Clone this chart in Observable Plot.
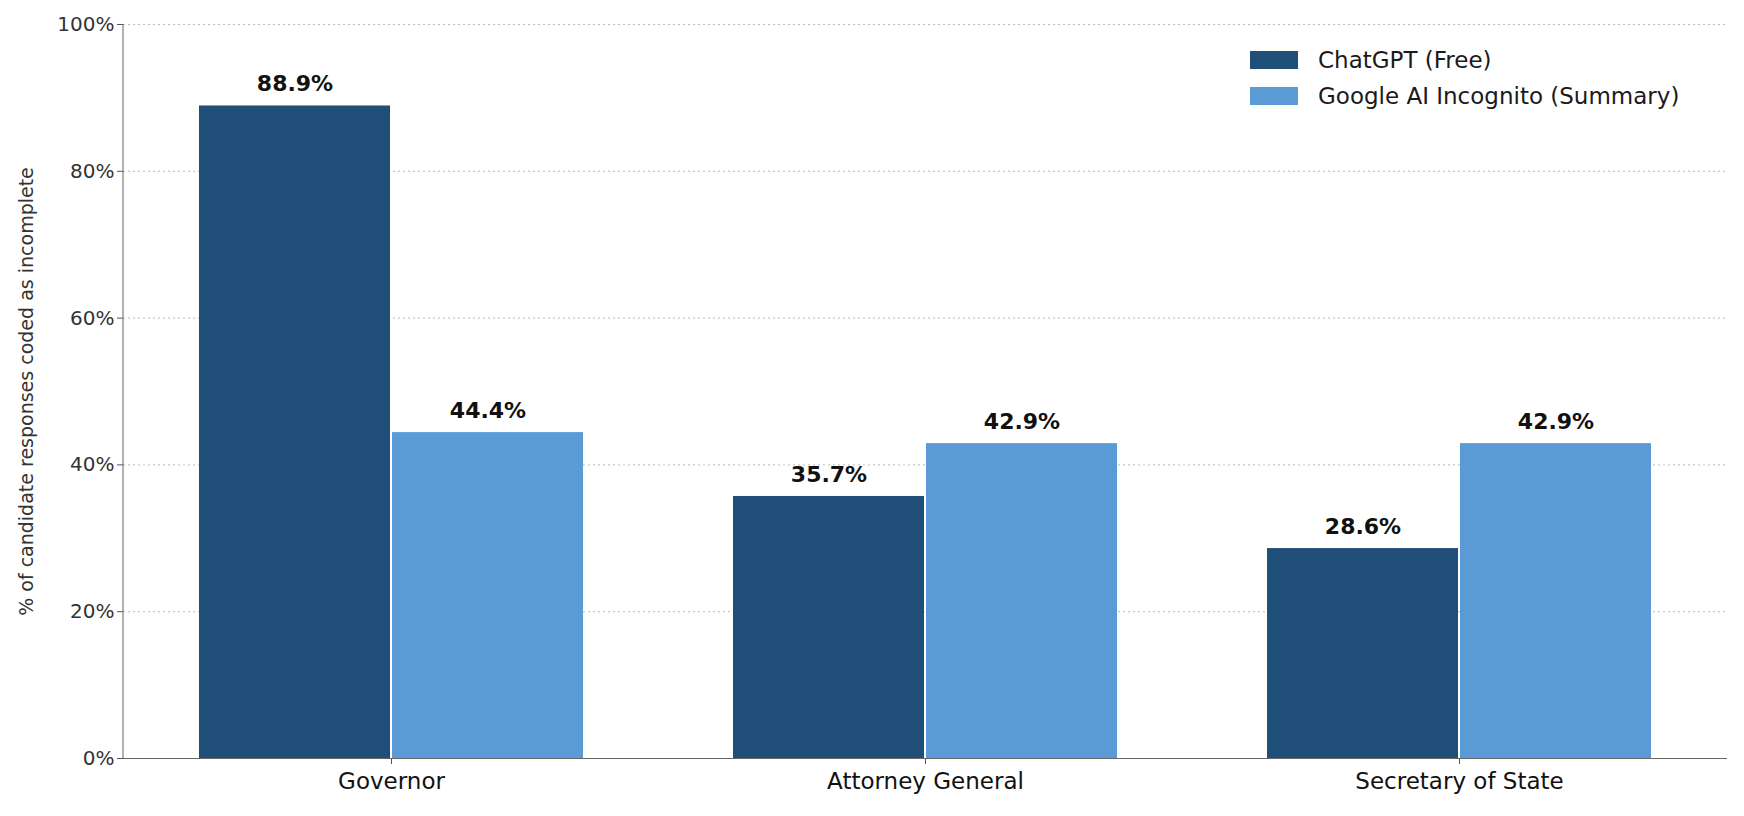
<!DOCTYPE html>
<html><head><meta charset="utf-8">
<script src="https://cdn.jsdelivr.net/npm/d3@7"></script>
<script src="https://cdn.jsdelivr.net/npm/@observablehq/plot@0.6"></script>
<style>
body{margin:0;background:#fff;font-family:"DejaVu Sans",sans-serif;}
#wrap{position:relative;width:1744px;height:816px;}
#legend{position:absolute;left:1250px;top:42px;font-size:23px;color:#1a1a1a;}
#legend div{display:flex;align-items:center;height:36px;}
#legend span.sw{display:inline-block;width:48px;height:18px;margin-right:20px;}
</style></head><body>
<div id="wrap"><div id="legend"></div></div>
<script>
const categories = ["Governor","Attorney General","Secretary of State"];
const series = ["ChatGPT (Free)","Google AI Incognito (Summary)"];
const chatgpt = [88.9,35.7,28.6];
const google = [44.4,42.9,42.9];
const colors = ["#1f4e79","#5b9bd5"];
const yTicks = [0,20,40,60,80,100];

const data = [];
categories.forEach((c,i)=>{
  data.push({cat:c,series:series[0],v:chatgpt[i]});
  data.push({cat:c,series:series[1],v:google[i]});
});
const d0 = data.filter(d=>d.series===series[0]);
const d1 = data.filter(d=>d.series===series[1]);
const half = 193;
const fmt = d=>d.v.toFixed(1)+"%";
const chart = Plot.plot({
  width:1744, height:816,
  marginLeft:123, marginRight:17, marginTop:24, marginBottom:58,
  style:{fontFamily:"DejaVu Sans",background:"#fff"},
  x:{domain:categories, paddingInner:0.28, paddingOuter:0.14, label:null, tickSize:6},
  y:{domain:[0,100], ticks:yTicks, tickFormat:d=>d+"%", label:"% of candidate responses coded as incomplete", labelAnchor:"center", labelArrow:"none", tickSize:6},
  color:{domain:series, range:colors},
  marks:[
    Plot.gridY(yTicks.slice(1),{stroke:"#bbb",strokeOpacity:1,strokeDasharray:"2,3"}),
    Plot.barY(d0,{x:"cat",y:"v",fill:"series",insetRight:half}),
    Plot.barY(d1,{x:"cat",y:"v",fill:"series",insetLeft:half}),
    Plot.text(d0,{x:"cat",y:"v",text:fmt,dx:-half/2,dy:-22,fontWeight:"bold",fontSize:22,fill:"#111"}),
    Plot.text(d1,{x:"cat",y:"v",text:fmt,dx:half/2,dy:-22,fontWeight:"bold",fontSize:22,fill:"#111"}),
    Plot.axisY({ticks:yTicks,tickFormat:d=>d+"%",fontSize:20,fill:"#333",stroke:"#555",tickSize:6,label:"% of candidate responses coded as incomplete",labelAnchor:"center",labelArrow:"none",labelOffset:104}),
    Plot.axisX({fontSize:23,fill:"#111",stroke:"#555",tickSize:6,tickPadding:8,label:null}),
    Plot.ruleX([0],{x:()=>null, stroke:"#666"}),
    Plot.ruleY([0],{stroke:"#666"})
  ]
});
// left axis line
const svg = d3.select(chart);
svg.append("line").attr("x1",123).attr("x2",123).attr("y1",24).attr("y2",758).attr("stroke","#666");
svg.selectAll("[aria-label='y-axis label'] text, [aria-label='y-axis label']").attr("font-size",19).attr("fill","#333");
document.getElementById("wrap").prepend(chart);
chart.style.position="absolute";chart.style.left="0";chart.style.top="0";
const lg=document.getElementById("legend");
series.forEach((s,i)=>{const d=document.createElement("div");d.innerHTML=`<span class="sw" style="background:${colors[i]}"></span>${s}`;lg.appendChild(d);});
</script></body></html>
